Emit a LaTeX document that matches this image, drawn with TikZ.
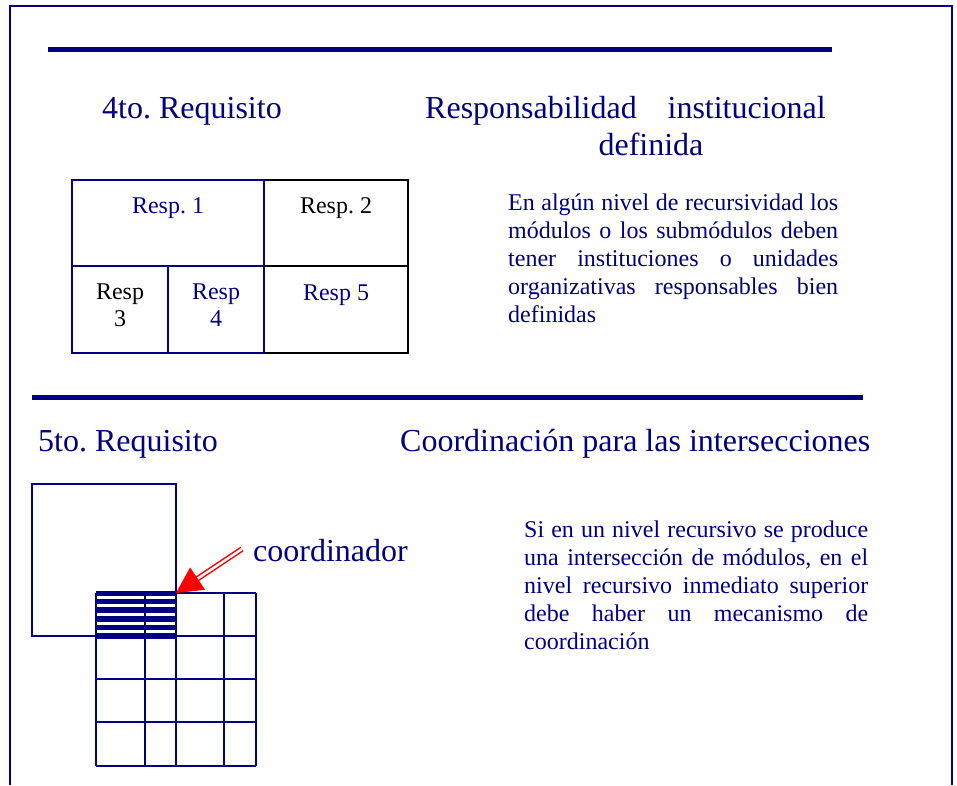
\documentclass[tikz,border=0pt]{standalone}
\usepackage{fontspec}
\setmainfont{Liberation Serif}
\frenchspacing
\usetikzlibrary{calc}
\definecolor{navy}{RGB}{0,0,128}

\begin{document}
\begin{tikzpicture}[x=1pt, y=-1pt,
                    bar/.style={draw=navy, line width=5pt},
                    hd/.style={text=navy, inner sep=0pt, font=\fontsize{32}{39}\selectfont},
                    txt/.style={text=navy, inner sep=0pt, text width=#1, align=justify,
                                anchor=north west, font=\fontsize{24}{28}\selectfont},
                    cell/.style={inner sep=0pt, align=center, font=\fontsize{24}{27}\selectfont},
                    bline/.style={draw=navy, line width=2pt},
                    kline/.style={draw=black, line width=2pt},
                    hatch/.style={draw=navy, line width=5.5pt}]
\useasboundingbox (0,0) rectangle (957,785);

% frame and bars
\draw[bline] (10,785) -- (10,5.5) -- (952,5.5) -- (952,785);
\draw[bar] (48,49) -- (832,49);
\draw[bar] (32,397) -- (863,397);

% 4to requisito
\node[hd, anchor=base west] (r4) at (102,118) {4to. Requisito};
\node[hd, anchor=base west] (r4a) at (425,118) {Responsabilidad};
\node[hd, anchor=base east] (r4b) at (826,118) {institucional};
\node[hd, anchor=base] (r4c) at (651,155) {definida};

\draw[kline] (264,180) -- (408,180) -- (408,353) -- (264,353);
\draw[kline] (264,266) -- (408,266);
\draw[bline] (72,180) rectangle (264,353);
\draw[bline] (72,266) -- (264,266);
\draw[bline] (168,266) -- (168,353);

\node[cell, text=navy, anchor=base] (c1) at (168,213) {Resp. 1};
\node[cell, anchor=base] (c2) at (336,213) {Resp. 2};
\node[cell, anchor=north] (c3) at (120,284) {Resp\\3};
\node[cell, text=navy, anchor=north] (c4) at (216,284) {Resp\\4};
\node[cell, text=navy, anchor=base] (c5) at (336,300) {Resp 5};

\node[txt=330pt] (p4) at (508,193.6) {En algún nivel de recursividad los\linebreak
  módulos o los submódulos deben\linebreak
  tener instituciones o unidades\linebreak
  organizativas responsables bien\linebreak
  definidas};

% 5to requisito
\node[hd, anchor=base west] (r5) at (38,451) {5to. Requisito};
\node[hd, anchor=base west] (r5a) at (400,451) {Coordinación para las intersecciones};

\draw[bline] (32,484) rectangle (176,636);
\begin{scope}
\clip (96,591) rectangle (176,638);
\foreach \y in {0,...,5}
  \draw[hatch] (96,{593+\y*8.6}) -- (176,{593+\y*8.6});
\end{scope}
\foreach \x in {96,145,176,224,256}
  \draw[bline] (\x,593) -- (\x,766);
\foreach \y in {593,636,679,722,766}
  \draw[bline] (96,\y) -- (256,\y);

% arrow to the coordinator
\coordinate (src) at (242,549);
\coordinate (crn) at (176,593);
\coordinate (hb) at ($(crn)!26pt!(src)$);
\draw[red, line width=1.5pt, double=white, double distance=2.5pt] (src) -- ($(crn)!23pt!(src)$);
\fill[red] (crn) -- ($(hb)!13.5pt!90:(crn)$) -- ($(hb)!13.5pt!-90:(crn)$) -- cycle;
\node[hd, anchor=base west] (co) at (253,561) {coordinador};

\node[txt=344pt] (p5) at (524,520.3) {Si en un nivel recursivo se produce\linebreak
  una intersección de módulos, en el\linebreak
  nivel recursivo inmediato superior\linebreak
  debe haber un mecanismo de\linebreak
  coordinación};
\end{tikzpicture}
\end{document}
